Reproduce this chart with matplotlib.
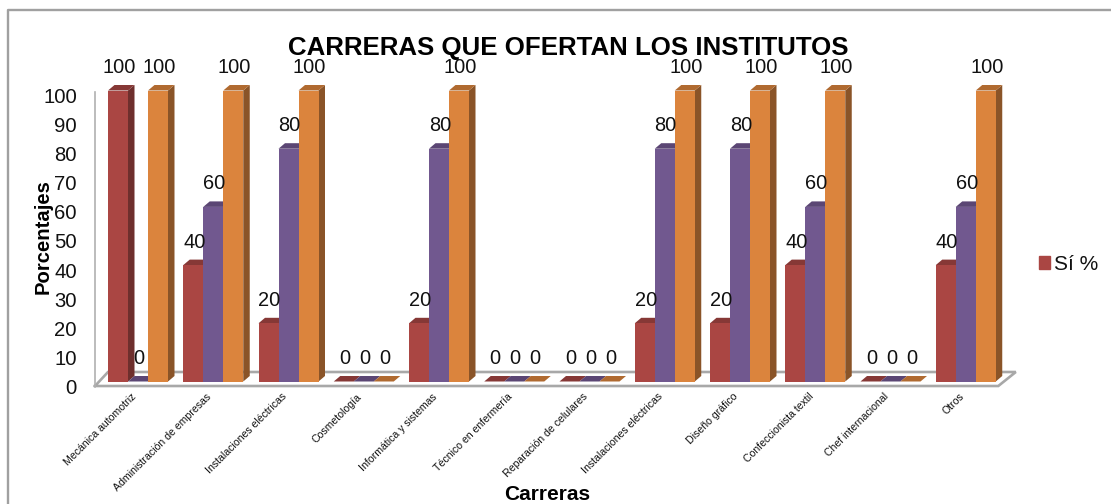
import matplotlib
matplotlib.use("Agg")
import matplotlib.pyplot as plt
from matplotlib.patches import Patch
from matplotlib.lines import Line2D
from matplotlib.transforms import Affine2D

plt.rcParams['font.family'] = ['Liberation Sans', 'DejaVu Sans']

categories = ["Mecánica automotriz", "Administración de empresas", "Instalaciones eléctricas",
              "Cosmetología", "Informática y sistemas", "Técnico en enfermería",
              "Reparación de celulares", "Instalaciones eléctricas", "Diseño gráfico",
              "Confeccionista textil", "Chef internacional", "Otros"]
serie_roja = [100, 40, 20, 0, 20, 0, 0, 20, 20, 40, 0, 40]
serie_morada = [0, 60, 80, 0, 80, 0, 0, 80, 80, 60, 0, 60]
serie_naranja = [100, 100, 100, 0, 100, 0, 0, 100, 100, 100, 0, 100]
y_ticks = list(range(0, 101, 10))

W, H = 1111, 504
fig = plt.figure(figsize=(W / 100, H / 100), dpi=100, facecolor='white')

# axes placement, pixels of the image
L, R, B, T = 95, 998.3, 386, 95
ax = fig.add_axes([L / W, 1 - B / H, (R - L) / W, (B - T) / H])
unit = 75.25
x0 = -(138 - L) / unit
ax.set_xlim(x0, x0 + (R - L) / unit)
ax.set_ylim(0, 100)
ax.patch.set_alpha(0)
for s in ax.spines.values():
    s.set_visible(False)
ppx = 1 / unit          # x data units per pixel
ppy = 100 / (B - T)     # y data units per pixel

# chart frame (only top and left are visible)
frame = '#A0A0A0'
fig.add_artist(Line2D([8 / W, 8 / W, 1], [0, 1 - 10 / H, 1 - 10 / H], color=frame, lw=1.7))

# floor and wall
grey = '#A8A8A8'
xl, xr = ax.get_xlim()
fx, fy = 17.5 * ppx, 14 * ppy
ax.plot([xl, xl + 13 * ppx, xr + fx, xr, xl], [0, fy, fy, 0, 0], color=grey, lw=1.9,
        clip_on=False, zorder=1, solid_joinstyle='miter')
ax.plot([xl, xl], [0, 101], color='#B0B0B0', lw=1.2, clip_on=False, zorder=1)

# bars
series = [(serie_roja, '#AA4643', '#6E2F2D', '#863836', -1),
          (serie_morada, '#71588F', '#4F3E64', '#5B4674', 0),
          (serie_naranja, '#DB843D', '#8A5428', '#B06A30', 1)]
bw = 20 / unit
dx, dy = 6.5 * ppx, 5.5 * ppy
bar_tr = ax.transData + Affine2D().translate(0, 4.5)
z = 3
for i in range(len(categories)):
    for vals, front, side, top, k in series:
        v = vals[i]
        x1 = i + k * bw - bw / 2
        x2 = x1 + bw
        ax.fill([x2, x2 + dx, x2 + dx, x2], [0, dy, v + dy, v], color=side, lw=0,
                transform=bar_tr, clip_on=False, zorder=z)
        ax.fill([x1, x1 + dx, x2 + dx, x2], [v, v + dy, v + dy, v], color=top, lw=0,
                transform=bar_tr, clip_on=False, zorder=z)
        ax.bar(i + k * bw, v, bw, color=front, lw=0, transform=bar_tr, clip_on=False, zorder=z)
        z += 0.01
for vals, front, side, top, k in series:
    for i, v in enumerate(vals):
        ax.annotate(str(v), (i + k * bw, v), xytext=(0.7, (4.5 + 23) * 0.72),
                    textcoords='offset points', ha='center', va='center',
                    fontsize=14.4, color='#111111', zorder=20, annotation_clip=False)

ax.set_yticks(y_ticks)
ax.tick_params(axis='y', length=0, pad=13, labelsize=14.6, labelcolor='#111111')
for lab in ax.get_yticklabels():
    lab.set_transform(lab.get_transform() + Affine2D().translate(0, -0.5))
ax.set_xticks(range(len(categories)))
ax.set_xticklabels(categories, rotation=45, ha='right', va='top', rotation_mode='anchor',
                   fontsize=7.6, color='#111111')
ax.tick_params(axis='x', length=0, pad=4)
for lab in ax.get_xticklabels():
    lab.set_transform(lab.get_transform() + Affine2D().translate(-7, 0))

fig.text(568 / W, 1 - 47.5 / H, "CARRERAS QUE OFERTAN LOS INSTITUTOS", ha='center', va='center',
         fontsize=18.6, fontweight='bold', color='black')
ax.set_ylabel("Porcentajes", fontsize=14.6, fontweight='bold', color='black')
ax.yaxis.set_label_coords((52.5 - L) / (R - L), (B - 236.5) / (B - T))
ax.set_xlabel("Carreras", fontsize=15, fontweight='bold', color='black')
ax.xaxis.set_label_coords((547 - L) / (R - L), (B - 494.5) / (B - T))
ax.xaxis.label.set_verticalalignment('center')

leg = fig.legend(handles=[Patch(color='#AA4643', label='Sí %')], loc='center left',
                 bbox_to_anchor=(1039 / W, 1 - 264.5 / H), bbox_transform=fig.transFigure,
                 frameon=False, fontsize=15, handlelength=0.55, handleheight=0.55,
                 handletextpad=0.15, borderpad=0, borderaxespad=0, labelcolor='#111111')

fig.savefig('out.png', dpi=100)
